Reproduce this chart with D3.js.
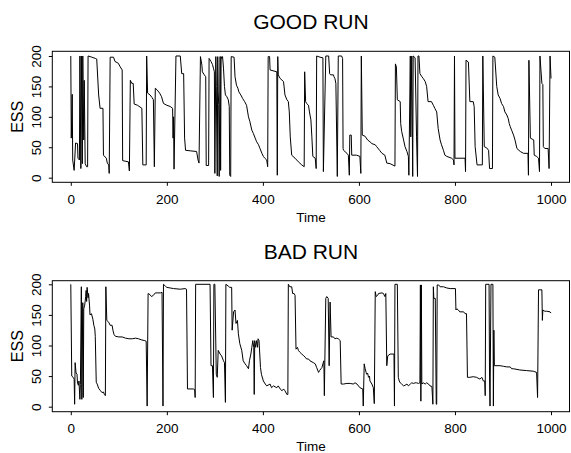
<!DOCTYPE html>
<html>
<head>
<meta charset="utf-8">
<script src="https://cdn.jsdelivr.net/npm/d3@7"></script>
<style>
  body { margin: 0; background: #fff; }
  svg { display: block; font-family: "Liberation Sans", Arial, sans-serif; }
</style>
</head>
<body>
<div id="chart"></div>
<script>
// vertices [time, ESS]
const goodRun = [[0,200],[1,65],[3,137],[4,29],[7,12],[10,57],[14,56],[15,32],[18,29],[19,200],[21,15],[22,200],[24,23],[25,200],[27,62],[28,160],[30,23],[33,18],[35,18],[36,200],[44,198],[51,196],[54,195],[58,136],[61,114],[67,114],[68,37],[74,32],[76,24],[79,21],[80,7],[82,198],[89,198],[92,191],[99,188],[103,182],[107,177],[108,28],[120,26],[122,11],[124,160],[127,155],[130,155],[132,121],[139,119],[148,114],[150,21],[157,21],[158,200],[160,139],[165,136],[169,132],[172,128],[174,18],[176,147],[180,144],[185,139],[189,133],[193,122],[200,119],[207,117],[212,114],[213,65],[214,100],[215,14],[219,200],[228,200],[231,171],[235,171],[237,65],[239,45],[250,44],[262,43],[265,29],[267,24],[270,199],[273,185],[274,174],[278,169],[281,166],[282,20],[287,20],[288,196],[292,191],[295,186],[297,180],[299,174],[300,7],[302,199],[303,150],[305,3],[306,199],[307,141],[308,120],[309,2],[311,199],[312,12],[313,199],[314,196],[316,199],[318,180],[320,150],[322,136],[325,133],[328,128],[330,117],[331,4],[333,2],[334,199],[340,198],[342,166],[345,152],[348,147],[350,141],[354,136],[358,130],[362,125],[366,119],[370,100],[373,92],[377,78],[380,73],[384,65],[387,59],[391,54],[394,48],[398,40],[401,35],[404,32],[408,29],[410,18],[411,199],[414,199],[415,177],[429,174],[430,4],[431,199],[432,169],[436,163],[443,158],[446,136],[450,128],[453,125],[455,108],[457,67],[460,37],[467,32],[474,26],[481,21],[486,18],[487,174],[489,125],[491,122],[495,119],[497,108],[500,95],[502,67],[504,35],[509,32],[511,15],[512,200],[519,198],[525,197],[526,10],[531,200],[537,200],[539,171],[541,169],[547,169],[548,166],[550,163],[552,155],[555,2],[557,200],[564,200],[566,196],[567,48],[568,45],[575,40],[578,37],[580,4],[581,70],[584,70],[585,37],[595,37],[602,35],[604,7],[605,200],[607,70],[613,68],[618,62],[623,59],[627,56],[634,54],[637,51],[643,45],[648,40],[654,37],[658,24],[665,23],[675,19],[676,187],[678,182],[680,128],[686,125],[687,89],[689,76],[693,62],[696,51],[700,43],[703,35],[704,4],[707,200],[708,67],[710,200],[712,2],[713,200],[717,197],[720,67],[722,2],[723,200],[725,200],[727,171],[731,166],[734,163],[738,158],[741,150],[744,125],[751,125],[755,119],[758,114],[762,108],[765,81],[769,62],[772,54],[776,45],[779,37],[783,35],[793,32],[797,29],[798,21],[799,200],[800,32],[821,32],[822,10],[823,193],[828,190],[831,125],[838,125],[840,117],[842,51],[846,21],[857,21],[858,200],[861,51],[866,49],[870,45],[872,15],[878,15],[879,200],[883,198],[887,150],[890,136],[894,130],[897,122],[901,117],[904,108],[908,103],[911,97],[913,89],[915,84],[918,78],[922,70],[925,62],[929,48],[936,43],[943,40],[952,40],[953,4],[954,193],[957,65],[964,62],[965,37],[970,35],[974,32],[976,10],[977,200],[981,155],[983,153],[984,51],[987,48],[994,48],[996,15],[998,200],[1000,163]];

const badRun = [[0,200],[2,50],[5,48],[7,45],[8,4],[9,72],[11,55],[13,53],[14,38],[16,35],[17,42],[19,12],[20,36],[22,196],[23,12],[25,170],[26,15],[27,160],[29,166],[31,180],[32,190],[33,172],[34,195],[36,178],[37,185],[39,166],[40,150],[43,152],[46,143],[48,133],[50,127],[51,115],[53,40],[55,37],[58,30],[62,26],[65,23],[68,24],[70,20],[72,18],[73,196],[75,141],[79,138],[82,133],[86,133],[88,124],[90,118],[93,115],[100,114],[107,114],[114,112],[121,111],[128,111],[135,112],[141,111],[148,109],[154,108],[157,107],[159,1],[161,185],[165,183],[168,180],[172,182],[176,186],[180,186],[187,186],[190,187],[192,1],[193,200],[197,197],[200,195],[207,194],[214,193],[228,192],[238,193],[241,192],[243,29],[255,29],[258,28],[259,15],[260,200],[290,200],[292,67],[295,67],[297,15],[298,200],[300,200],[303,53],[305,48],[307,92],[311,86],[314,83],[318,75],[320,72],[322,7],[323,200],[328,197],[331,195],[335,195],[336,125],[339,155],[342,158],[344,136],[347,141],[349,119],[352,103],[356,92],[359,75],[363,70],[366,67],[370,62],[372,75],[375,86],[377,97],[379,108],[381,97],[382,20],[383,108],[385,97],[387,108],[389,97],[390,111],[392,108],[395,64],[397,53],[401,42],[405,37],[408,34],[415,37],[418,31],[422,34],[429,31],[432,34],[436,29],[440,26],[443,29],[446,26],[450,20],[452,20],[453,200],[456,196],[460,196],[462,185],[465,185],[467,182],[469,94],[472,97],[474,92],[477,89],[481,86],[484,84],[488,81],[491,78],[495,78],[498,75],[505,72],[509,70],[512,64],[516,56],[518,59],[521,62],[523,64],[525,70],[527,75],[528,18],[529,72],[531,177],[533,180],[536,177],[538,67],[540,171],[542,114],[547,114],[550,111],[554,112],[557,111],[561,108],[563,37],[568,37],[575,38],[582,38],[588,37],[592,39],[596,37],[602,31],[608,29],[609,1],[611,70],[613,62],[615,56],[616,53],[618,55],[620,48],[622,50],[623,42],[627,37],[630,31],[632,5],[634,188],[636,180],[639,182],[641,185],[648,186],[651,185],[654,180],[656,185],[658,67],[660,83],[665,86],[669,86],[673,86],[674,1],[675,200],[680,200],[682,48],[684,42],[686,39],[689,37],[693,34],[696,35],[700,37],[703,34],[707,37],[710,39],[714,38],[717,39],[720,39],[724,38],[727,39],[728,199],[729,9],[730,199],[731,37],[734,39],[738,37],[741,39],[745,37],[748,34],[752,33],[754,4],[755,196],[756,177],[759,177],[761,4],[762,4],[763,199],[766,199],[769,196],[776,196],[783,194],[790,193],[801,193],[802,158],[804,160],[807,158],[810,155],[818,155],[821,152],[824,152],[826,48],[831,48],[838,49],[845,48],[852,45],[856,48],[859,42],[862,42],[863,18],[864,200],[871,200],[872,50],[873,1],[875,200],[879,200],[880,1],[881,125],[882,67],[894,67],[901,66],[908,65],[915,65],[918,62],[922,62],[935,60],[949,59],[963,58],[970,56],[972,15],[974,191],[981,191],[982,141],[983,158],[987,156],[991,156],[998,155],[1000,153]];

const xTicks = [0, 200, 400, 600, 800, 1000];
const yTicks = [0, 50, 100, 150, 200];
const titles = ["GOOD RUN", "BAD RUN"];

const W = 571, H = 453;
const box = { left: 52.3, right: 569.5, top: 51.3, bottom: 182.3 };
const panelShift = 229.4;

const svg = d3.select("#chart")
    .append("svg")
    .attr("width", W)
    .attr("height", H);

svg.append("rect").attr("width", W).attr("height", H).attr("fill", "#fff");

const x = d3.scaleLinear()
    .domain([-38.5, 1038.5])
    .range([box.left, box.right]);

function drawPanel(data, title, shift, yDomain) {
    const top = box.top + shift, bottom = box.bottom + shift;
    const g = svg.append("g");

    const y = d3.scaleLinear().domain(yDomain).range([bottom, top]);

    const line = d3.line()
        .x(d => x(d[0]))
        .y(d => y(d[1]));

    g.append("path")
        .datum(data)
        .attr("fill", "none")
        .attr("stroke", "#000")
        .attr("stroke-width", 1)
        .attr("d", line);

    // box
    g.append("rect")
        .attr("x", box.left)
        .attr("y", top)
        .attr("width", box.right - box.left)
        .attr("height", bottom - top)
        .attr("fill", "none")
        .attr("stroke", "#000")
        .attr("stroke-width", 1);

    // x axis
    const xa = g.append("g")
        .attr("transform", `translate(0,${bottom})`)
        .call(d3.axisBottom(x).tickValues(xTicks).tickSize(3.5).tickFormat(d3.format("d")));
    xa.select(".domain").remove();
    xa.selectAll("text")
        .attr("y", 21.7)
        .attr("dy", null)
        .style("font-size", "13.5px")
        .style("font-family", "'Liberation Sans', Arial, sans-serif");

    // y axis
    const ya = g.append("g")
        .attr("transform", `translate(${box.left},0)`)
        .call(d3.axisLeft(y).tickValues(yTicks).tickSize(3.5));
    ya.select(".domain").remove();
    ya.selectAll("text")
        .attr("x", null).attr("dy", null)
        .attr("text-anchor", "middle")
        .attr("transform", `translate(-11.6,0) rotate(-90)`)
        .style("font-size", "13.5px")
        .style("font-family", "'Liberation Sans', Arial, sans-serif");

    g.append("text")
        .attr("x", (box.left + box.right) / 2)
        .attr("y", bottom + 39.5)
        .attr("text-anchor", "middle")
        .style("font-size", "13.5px")
        .text("Time");

    g.append("text")
        .attr("transform", `translate(23,${(top + bottom) / 2}) rotate(-90)`)
        .attr("text-anchor", "middle")
        .style("font-size", "16px")
        .text("ESS");

    g.append("text")
        .attr("x", (box.left + box.right) / 2)
        .attr("y", 29.3 + shift)
        .attr("text-anchor", "middle")
        .style("font-size", "21px")
        .text(title);
}

drawPanel(goodRun, titles[0], 0, [-7.6, 207.7]);
drawPanel(badRun, titles[1], panelShift, [-8.2, 205.9]);
</script>
</body>
</html>
